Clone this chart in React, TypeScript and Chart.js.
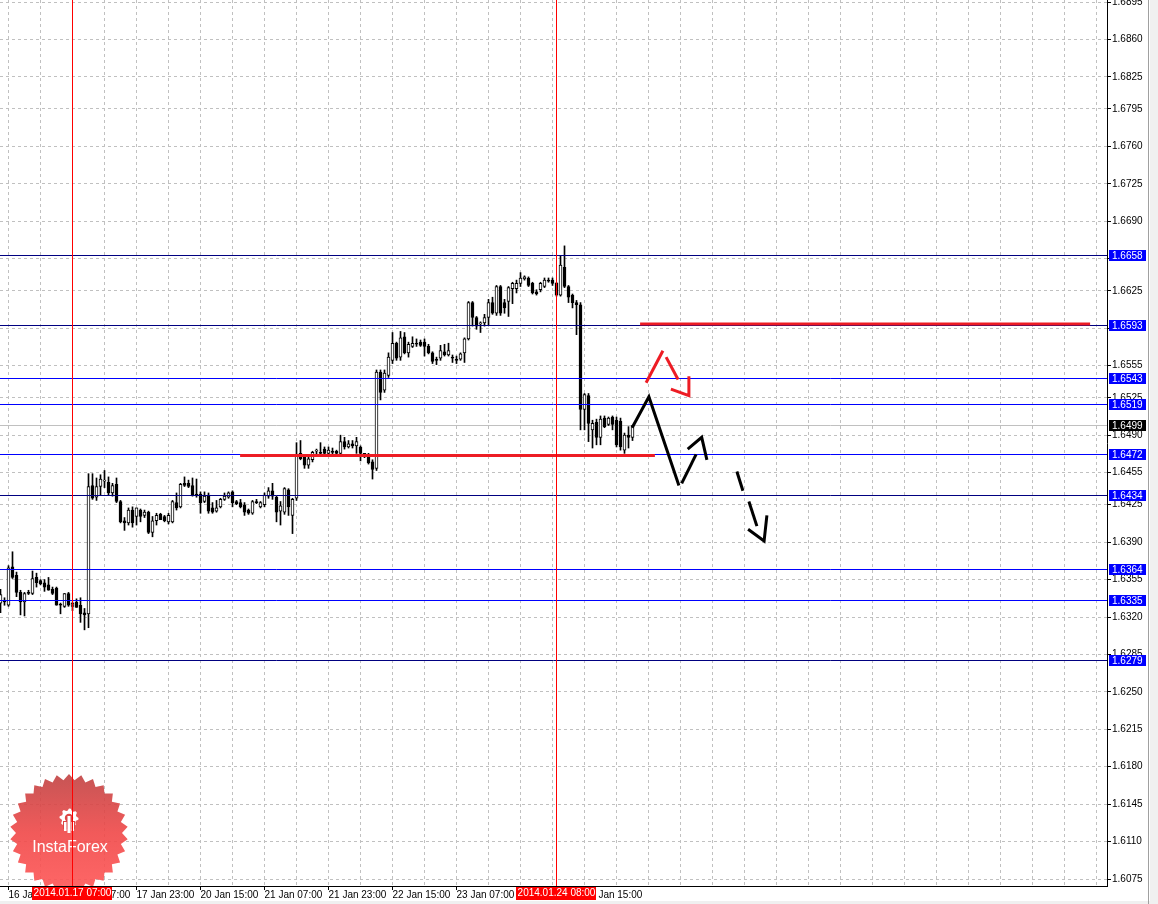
import React, { useEffect, useRef } from 'react';
import { Chart, registerables } from 'chart.js';

Chart.register(...registerables);

// ---------- H1 candles (bar 0 = 16 Jan 13:00) ----------
const opens = [
  1.6333, 1.6335, 1.6331, 1.6367, 1.6359, 1.6343, 1.6334, 1.6343, 1.6342, 1.6357,
  1.6354, 1.6352, 1.6350, 1.6346, 1.6347, 1.6332, 1.6330, 1.6342, 1.6330, 1.6334,
  1.6331, 1.6324, 1.6323, 1.6443, 1.6432, 1.6442, 1.6447, 1.6446, 1.6436, 1.6444,
  1.6428, 1.6410, 1.6408, 1.6420, 1.6414, 1.6420, 1.6415, 1.6418, 1.6399, 1.6410,
  1.6416, 1.6414, 1.6409, 1.6409, 1.6427, 1.6423, 1.6445, 1.6445, 1.6443, 1.6435,
  1.6435, 1.6428, 1.6434, 1.6422, 1.6419, 1.6423, 1.6430, 1.6432, 1.6437, 1.6428,
  1.6427, 1.6425, 1.6420, 1.6417, 1.6428, 1.6423, 1.6425, 1.6433, 1.6438, 1.6432,
  1.6419, 1.6418, 1.6439, 1.6415, 1.6431, 1.6473, 1.6470, 1.6462, 1.6467, 1.6475,
  1.6474, 1.6477, 1.6473, 1.6475, 1.6475, 1.6473, 1.6484, 1.6479, 1.6482, 1.6480,
  1.6479, 1.6470, 1.6470, 1.6465, 1.6459, 1.6549, 1.6532, 1.6546, 1.6560, 1.6576,
  1.6563, 1.6582, 1.6567, 1.6573, 1.6576, 1.6577, 1.6577, 1.6573, 1.6567, 1.6561,
  1.6562, 1.6568, 1.6565, 1.6563, 1.6561, 1.6561, 1.6567, 1.6580, 1.6614, 1.6600,
  1.6594, 1.6595, 1.6600, 1.6614, 1.6604, 1.6629, 1.6614, 1.6615, 1.6627, 1.6627,
  1.6632, 1.6636, 1.6637, 1.6632, 1.6624, 1.6626, 1.6629, 1.6635, 1.6635, 1.6632,
  1.6621, 1.6647, 1.6629, 1.6621, 1.6614, 1.6612, 1.6514, 1.6527, 1.6495, 1.6502,
  1.6488, 1.6506, 1.6500, 1.6507, 1.6504, 1.6503, 1.6476, 1.6490, 1.6488,
];
const highs = [
  1.6346, 1.6338, 1.6368, 1.6381, 1.6362, 1.6345, 1.6343, 1.6345, 1.6363, 1.6361,
  1.6355, 1.6355, 1.6357, 1.6348, 1.6348, 1.6333, 1.6342, 1.6343, 1.6334, 1.6337,
  1.6338, 1.6328, 1.6454, 1.6454, 1.6450, 1.6453, 1.6457, 1.6451, 1.6445, 1.6450,
  1.6429, 1.6413, 1.6422, 1.6423, 1.6422, 1.6421, 1.6420, 1.6419, 1.6414, 1.6417,
  1.6417, 1.6415, 1.6417, 1.6429, 1.6436, 1.6445, 1.6451, 1.6448, 1.6450, 1.6449,
  1.6437, 1.6437, 1.6436, 1.6427, 1.6429, 1.6431, 1.6436, 1.6437, 1.6438, 1.6429,
  1.6430, 1.6427, 1.6421, 1.6429, 1.6430, 1.6428, 1.6436, 1.6441, 1.6445, 1.6433,
  1.6428, 1.6441, 1.6440, 1.6431, 1.6483, 1.6485, 1.6471, 1.6470, 1.6475, 1.6477,
  1.6483, 1.6479, 1.6479, 1.6478, 1.6476, 1.6490, 1.6488, 1.6485, 1.6485, 1.6488,
  1.6480, 1.6473, 1.6473, 1.6467, 1.6551, 1.6551, 1.6551, 1.6567, 1.6586, 1.6577,
  1.6587, 1.6586, 1.6577, 1.6582, 1.6580, 1.6579, 1.6580, 1.6575, 1.6568, 1.6563,
  1.6574, 1.6575, 1.6576, 1.6565, 1.6564, 1.6567, 1.6581, 1.6615, 1.6615, 1.6601,
  1.6596, 1.6603, 1.6617, 1.6619, 1.6630, 1.6630, 1.6617, 1.6629, 1.6633, 1.6635,
  1.6642, 1.6639, 1.6638, 1.6633, 1.6626, 1.6633, 1.6637, 1.6637, 1.6637, 1.6633,
  1.6658, 1.6667, 1.6630, 1.6622, 1.6616, 1.6614, 1.6529, 1.6529, 1.6504, 1.6505,
  1.6508, 1.6508, 1.6507, 1.6508, 1.6507, 1.6506, 1.6492, 1.6498, 1.6499,
];
const lows = [
  1.6324, 1.6331, 1.6330, 1.6356, 1.6339, 1.6322, 1.6321, 1.6341, 1.6341, 1.6348,
  1.6350, 1.6344, 1.6345, 1.6341, 1.6331, 1.6323, 1.6329, 1.6330, 1.6326, 1.6329,
  1.6315, 1.6308, 1.6310, 1.6430, 1.6429, 1.6434, 1.6441, 1.6434, 1.6433, 1.6427,
  1.6408, 1.6401, 1.6406, 1.6404, 1.6406, 1.6409, 1.6413, 1.6398, 1.6395, 1.6406,
  1.6411, 1.6409, 1.6407, 1.6408, 1.6420, 1.6422, 1.6442, 1.6441, 1.6433, 1.6432,
  1.6417, 1.6427, 1.6417, 1.6417, 1.6418, 1.6422, 1.6429, 1.6431, 1.6423, 1.6425,
  1.6422, 1.6415, 1.6416, 1.6416, 1.6426, 1.6422, 1.6423, 1.6431, 1.6430, 1.6409,
  1.6406, 1.6416, 1.6415, 1.6398, 1.6429, 1.6467, 1.6459, 1.6459, 1.6465, 1.6470,
  1.6470, 1.6472, 1.6470, 1.6472, 1.6470, 1.6470, 1.6477, 1.6478, 1.6478, 1.6473,
  1.6466, 1.6469, 1.6463, 1.6449, 1.6457, 1.6523, 1.6530, 1.6544, 1.6557, 1.6560,
  1.6560, 1.6566, 1.6563, 1.6572, 1.6573, 1.6573, 1.6564, 1.6566, 1.6557, 1.6556,
  1.6560, 1.6564, 1.6564, 1.6558, 1.6557, 1.6560, 1.6558, 1.6579, 1.6592, 1.6589,
  1.6586, 1.6592, 1.6593, 1.6603, 1.6602, 1.6602, 1.6604, 1.6601, 1.6613, 1.6623,
  1.6629, 1.6635, 1.6629, 1.6622, 1.6621, 1.6624, 1.6628, 1.6633, 1.6630, 1.6620,
  1.6620, 1.6628, 1.6614, 1.6609, 1.6584, 1.6495, 1.6495, 1.6484, 1.6478, 1.6481,
  1.6481, 1.6497, 1.6499, 1.6495, 1.6479, 1.6476, 1.6473, 1.6478, 1.6485,
];
const closes = [
  1.6341, 1.6334, 1.6366, 1.6357, 1.6343, 1.6334, 1.6342, 1.6342, 1.6356, 1.6352,
  1.6351, 1.6348, 1.6345, 1.6342, 1.6331, 1.6331, 1.6342, 1.6331, 1.6333, 1.6329,
  1.6323, 1.6322, 1.6442, 1.6431, 1.6442, 1.6449, 1.6448, 1.6436, 1.6443, 1.6428,
  1.6409, 1.6408, 1.6420, 1.6408, 1.6422, 1.6414, 1.6418, 1.6399, 1.6410, 1.6415,
  1.6411, 1.6410, 1.6415, 1.6428, 1.6422, 1.6444, 1.6443, 1.6442, 1.6434, 1.6434,
  1.6427, 1.6433, 1.6419, 1.6418, 1.6422, 1.6430, 1.6433, 1.6436, 1.6427, 1.6426,
  1.6423, 1.6418, 1.6417, 1.6428, 1.6427, 1.6427, 1.6434, 1.6438, 1.6433, 1.6418,
  1.6424, 1.6440, 1.6423, 1.6430, 1.6472, 1.6468, 1.6462, 1.6468, 1.6474, 1.6476,
  1.6473, 1.6473, 1.6476, 1.6474, 1.6473, 1.6484, 1.6479, 1.6482, 1.6480, 1.6484,
  1.6473, 1.6473, 1.6464, 1.6458, 1.6549, 1.6530, 1.6548, 1.6563, 1.6576, 1.6562,
  1.6581, 1.6567, 1.6575, 1.6576, 1.6575, 1.6574, 1.6573, 1.6567, 1.6559, 1.6560,
  1.6569, 1.6565, 1.6569, 1.6562, 1.6560, 1.6566, 1.6580, 1.6614, 1.6600, 1.6592,
  1.6595, 1.6600, 1.6614, 1.6604, 1.6629, 1.6604, 1.6609, 1.6628, 1.6632, 1.6632,
  1.6637, 1.6638, 1.6630, 1.6623, 1.6622, 1.6632, 1.6635, 1.6634, 1.6632, 1.6621,
  1.6649, 1.6629, 1.6619, 1.6614, 1.6612, 1.6514, 1.6528, 1.6501, 1.6501, 1.6488,
  1.6505, 1.6498, 1.6506, 1.6500, 1.6481, 1.6479, 1.6490, 1.6488, 1.6499,
];

// ---------- axes ----------
const priceMin = 1.60685;
const priceMax = 1.68969;
const barMin = -0.125;
const barMax = 276.625;
const priceTicks = [
  1.6895, 1.686, 1.6825, 1.6795, 1.676, 1.6725, 1.669, 1.6655, 1.6625, 1.659,
  1.6555, 1.6525, 1.649, 1.6455, 1.6425, 1.639, 1.6355, 1.632, 1.6285, 1.625,
  1.6215, 1.618, 1.6145, 1.611, 1.6075,
];
const timeLabels = [
  '16 Jan 15:00', '17 Jan 07:00', '17 Jan 23:00', '20 Jan 15:00', '21 Jan 07:00',
  '21 Jan 23:00', '22 Jan 15:00', '23 Jan 07:00', '23 Jan 23:00', '24 Jan 15:00',
];
const timeLabelBars = [2, 18, 34, 50, 66, 82, 98, 114, 130, 146];
const gridBars = [
  2, 10, 18, 26, 34, 42, 50, 58, 66, 74, 82, 90, 98, 106, 114, 122, 130, 138,
  146, 154, 162, 170, 178, 186, 194, 202, 210, 218, 226, 234, 242, 250, 258, 266, 274,
];

// ---------- objects ----------
const levelPrices = [1.6658, 1.6593, 1.6543, 1.6519, 1.6472, 1.6434, 1.6364, 1.6335, 1.6279];
const levelColors = ['#000080', '#000080', '#0000ff', '#0000ff', '#0000ff', '#000080', '#0000ff', '#0000ff', '#000080'];
const currentPrice = 1.6499;
const markerBars = [18, 139];
const markerLabels = ['2014.01.17 07:00', '2014.01.24 08:00'];

const redLevelA = [[59.9, 1.6471], [163.6, 1.6471]];
const redLevelB = [[159.9, 1.6594], [272.4, 1.6594]];

const blackPathA = [[157.9, 1.6497], [162.1, 1.6526], [169.6, 1.6443]];
const blackPathB = [[170.3, 1.6445], [173.9, 1.6472]];
const blackPathC = [[171.8, 1.6477], [175.3, 1.6488], [176.6, 1.6467]];
const blackDash1 = [[184.1, 1.6456], [185.6, 1.6438]];
const blackDash2 = [[187.1, 1.6428], [189.1, 1.6405]];
const blackDash3 = [[186.9, 1.6402], [190.9, 1.6391], [191.6, 1.6415]];
const redPathA = [[161.4, 1.6539], [165.6, 1.6569]];
const redPathB = [[166.4, 1.6563], [169.4, 1.6542]];
const redPathC = [[167.6, 1.6533], [172.1, 1.6527], [172.1, 1.6545]];

const FONT = '"Liberation Sans", Arial, sans-serif';
const RED = '#ed1c24';

function pathDataset(points: number[][], color: string) {
  return {
    type: 'line' as const,
    data: points.map(([x, y]) => ({ x, y })),
    borderColor: color,
    borderWidth: 3,
    pointRadius: 0,
    fill: false,
    tension: 0,
    borderCapStyle: 'butt' as const,
    order: 0,
  };
}

function drawLogo(ctx: CanvasRenderingContext2D, area: any) {
  const cx = 69, cy = 833, R = 59, r = 53, n = 30;
  ctx.save();
  ctx.beginPath();
  ctx.rect(area.left, area.top, area.right - area.left, area.bottom - area.top);
  ctx.clip();
  ctx.beginPath();
  for (let j = 0; j < n * 2; j++) {
    const ang = -Math.PI / 2 + (j * Math.PI) / n;
    const rad = j % 2 === 0 ? R : r;
    const px = cx + rad * Math.cos(ang);
    const py = cy + rad * Math.sin(ang);
    if (j === 0) ctx.moveTo(px, py); else ctx.lineTo(px, py);
  }
  ctx.closePath();
  const g = ctx.createLinearGradient(0, cy - R, 0, cy + R);
  g.addColorStop(0, 'rgba(192,66,66,0.9)');
  g.addColorStop(0.5, 'rgba(240,72,72,0.9)');
  g.addColorStop(1, 'rgba(255,86,86,0.9)');
  ctx.fillStyle = g;
  ctx.fill();
  // icon: gear with stem
  const gx = 69, gy = 818;
  ctx.fillStyle = '#ffffff';
  ctx.beginPath();
  const teeth = 8;
  for (let j = 0; j < teeth * 4; j++) {
    const ang = -Math.PI / 2 + (j * Math.PI * 2) / (teeth * 4);
    const rad = (j % 4 === 0 || j % 4 === 1) ? 9.5 : 7.5;
    const px = gx + rad * Math.cos(ang);
    const py = gy + rad * Math.sin(ang);
    if (j === 0) ctx.moveTo(px, py); else ctx.lineTo(px, py);
  }
  ctx.closePath();
  ctx.fill();
  ctx.fillStyle = 'rgb(222,70,70)';
  ctx.beginPath();
  ctx.arc(gx, gy, 4.2, 0, Math.PI * 2);
  ctx.fill();
  ctx.fillRect(gx - 6, gy + 3, 12, 8);
  ctx.fillStyle = '#ffffff';
  ctx.fillRect(gx - 1.5, gy - 2, 3, 17);
  ctx.fillRect(gx - 5, gy + 4, 2.5, 9);
  ctx.fillRect(gx + 2.5, gy + 4, 2.5, 9);
  ctx.font = '16px ' + FONT;
  ctx.textAlign = 'center';
  ctx.textBaseline = 'alphabetic';
  ctx.fillText('InstaForex', cx + 1, 852);
  ctx.restore();
}

const overlayPlugin = {
  id: 'mt4Overlay',
  beforeDatasetsDraw(chart: any) {
    const { ctx, chartArea: a, scales } = chart;
    const py = Math.floor(scales.y.getPixelForValue(currentPrice)) + 0.5;
    ctx.save();
    ctx.strokeStyle = '#c0c0c0';
    ctx.lineWidth = 1;
    ctx.beginPath();
    ctx.moveTo(a.left, py);
    ctx.lineTo(a.right, py);
    ctx.stroke();
    ctx.restore();
    drawLogo(ctx, a);
  },
  afterDatasetDraw(chart: any, args: any) {
    if (args.index !== 0) return;
    const { ctx, chartArea: a, scales } = chart;
    ctx.save();
    ctx.lineWidth = 1;
    levelPrices.forEach((p, i) => {
      const py = Math.floor(scales.y.getPixelForValue(p)) + 0.5;
      ctx.strokeStyle = levelColors[i];
      ctx.beginPath();
      ctx.moveTo(a.left, py);
      ctx.lineTo(a.right, py);
      ctx.stroke();
    });
    ctx.restore();
  },
  afterDatasetsDraw(chart: any) {
    const { ctx, chartArea: a, scales } = chart;
    ctx.save();
    ctx.strokeStyle = '#ff0000';
    ctx.lineWidth = 1;
    markerBars.forEach((b) => {
      const px = Math.floor(scales.x.getPixelForValue(b)) + 0.5;
      ctx.beginPath();
      ctx.moveTo(px, a.top);
      ctx.lineTo(px, a.bottom);
      ctx.stroke();
    });
    ctx.restore();
  },
  afterDraw(chart: any) {
    const { ctx, chartArea: a, scales } = chart;
    ctx.save();
    ctx.font = '10px ' + FONT;
    ctx.textBaseline = 'middle';
    ctx.textAlign = 'left';
    const box = (p: number, bg: string) => {
      const py = Math.floor(scales.y.getPixelForValue(p)) + 0.5;
      ctx.fillStyle = bg;
      ctx.fillRect(a.right + 2, py - 5.5, 37, 11);
      ctx.fillStyle = '#ffffff';
      ctx.fillText(p.toFixed(4), a.right + 5, py + 0.5);
    };
    levelPrices.forEach((p) => box(p, '#0000ff'));
    box(currentPrice, '#000000');
    ctx.font = '10px ' + FONT;
    ctx.textAlign = 'center';
    markerBars.forEach((b, i) => {
      const px = Math.floor(scales.x.getPixelForValue(b)) + 0.5;
      ctx.fillStyle = '#ff0000';
      ctx.fillRect(Math.round(px - 40.5), a.bottom + 1, 80, 13);
      ctx.fillStyle = '#ffffff';
      ctx.fillText(markerLabels[i], px, a.bottom + 7.5);
    });
    // window frame on the right and bottom
    ctx.fillStyle = '#f0f0f0';
    ctx.fillRect(1150, 0, 8, 904);
    ctx.fillRect(0, 901, 1158, 3);
    ctx.strokeStyle = '#a0a0a0';
    ctx.lineWidth = 1;
    ctx.beginPath();
    ctx.moveTo(1148.5, 0);
    ctx.lineTo(1148.5, 904);
    ctx.stroke();
    ctx.restore();
  },
};

export default function App() {
  const ref = useRef<HTMLCanvasElement>(null);
  useEffect(() => {
    const canvas = ref.current;
    if (!canvas) return;
    Chart.defaults.font.family = FONT;
    const up = opens.map((o, i) => closes[i] >= o);
    const chart = new Chart(canvas, {
      type: 'bar',
      data: {
        datasets: [
          {
            type: 'bar',
            data: opens.map((o, i) => ({ x: i, y: [o, closes[i]] })) as any,
            backgroundColor: up.map((u) => (u ? '#ffffff' : '#000000')),
            borderColor: '#000000',
            borderWidth: 1,
            borderSkipped: false,
            barThickness: 3,
            grouped: false,
            minBarLength: 1,
            order: 1,
          } as any,
          {
            type: 'bar',
            data: lows.map((l, i) => ({ x: i, y: [l, highs[i]] })) as any,
            backgroundColor: '#000000',
            borderWidth: 0,
            barThickness: 1,
            grouped: false,
            minBarLength: 1,
            order: 2,
          } as any,
          pathDataset(redLevelA, RED) as any,
          pathDataset(redLevelB, RED) as any,
          pathDataset(blackPathA, '#000000') as any,
          pathDataset(blackPathB, '#000000') as any,
          pathDataset(blackPathC, '#000000') as any,
          pathDataset(blackDash1, '#000000') as any,
          pathDataset(blackDash2, '#000000') as any,
          pathDataset(blackDash3, '#000000') as any,
          pathDataset(redPathA, RED) as any,
          pathDataset(redPathB, RED) as any,
          pathDataset(redPathC, RED) as any,
        ],
      },
      options: {
        responsive: false,
        maintainAspectRatio: false,
        animation: false,
        events: [],
        layout: { padding: 0, autoPadding: false } as any,
        plugins: { legend: { display: false }, tooltip: { enabled: false } },
        scales: {
          x: {
            type: 'linear',
            position: 'bottom',
            offset: false,
            min: barMin,
            max: barMax,
            afterBuildTicks: (s: any) => {
              s.ticks = gridBars.map((v) => ({ value: v }));
            },
            afterFit: (s: any) => {
              s.height = 18;
              s.paddingLeft = 0;
              s.paddingRight = 0;
            },
            ticks: {
              autoSkip: false,
              maxRotation: 0,
              minRotation: 0,
              align: 'start',
              padding: 0,
              color: '#000000',
              font: { size: 10, family: FONT, lineHeight: 1 },
              callback: (v: any) => {
                const idx = timeLabelBars.indexOf(Number(v));
                return idx >= 0 ? timeLabels[idx] : '';
              },
            },
            grid: {
              offset: false,
              color: '#c0c0c0',
              lineWidth: 1,
              tickLength: 4,
              tickColor: (c: any) =>
                c.tick && timeLabelBars.indexOf(c.tick.value) >= 0 ? '#000000' : 'rgba(0,0,0,0)',
            },
            border: { display: true, color: '#000000', width: 1, dash: [3, 3] },
          } as any,
          y: {
            type: 'linear',
            position: 'right',
            min: priceMin,
            max: priceMax,
            afterBuildTicks: (s: any) => {
              s.ticks = priceTicks.map((v) => ({ value: v }));
            },
            afterFit: (s: any) => {
              s.width = 51;
              s.paddingTop = 0;
              s.paddingBottom = 0;
            },
            ticks: {
              autoSkip: false,
              padding: 1,
              color: '#000000',
              font: { size: 10, family: FONT },
              callback: (v: any) => Number(v).toFixed(4),
            },
            grid: { color: '#c0c0c0', lineWidth: 1, tickLength: 4, tickColor: '#000000' },
            border: { display: true, color: '#000000', width: 1, dash: [3, 3] },
          } as any,
        },
      },
      plugins: [overlayPlugin as any],
    });
    return () => chart.destroy();
  }, []);
  return (
    <div style={{ position: 'fixed', left: 0, top: 0, width: 1158, height: 904, background: '#ffffff' }}>
      <canvas ref={ref} width={1158} height={904} style={{ display: 'block', width: 1158, height: 904 }} />
    </div>
  );
}
